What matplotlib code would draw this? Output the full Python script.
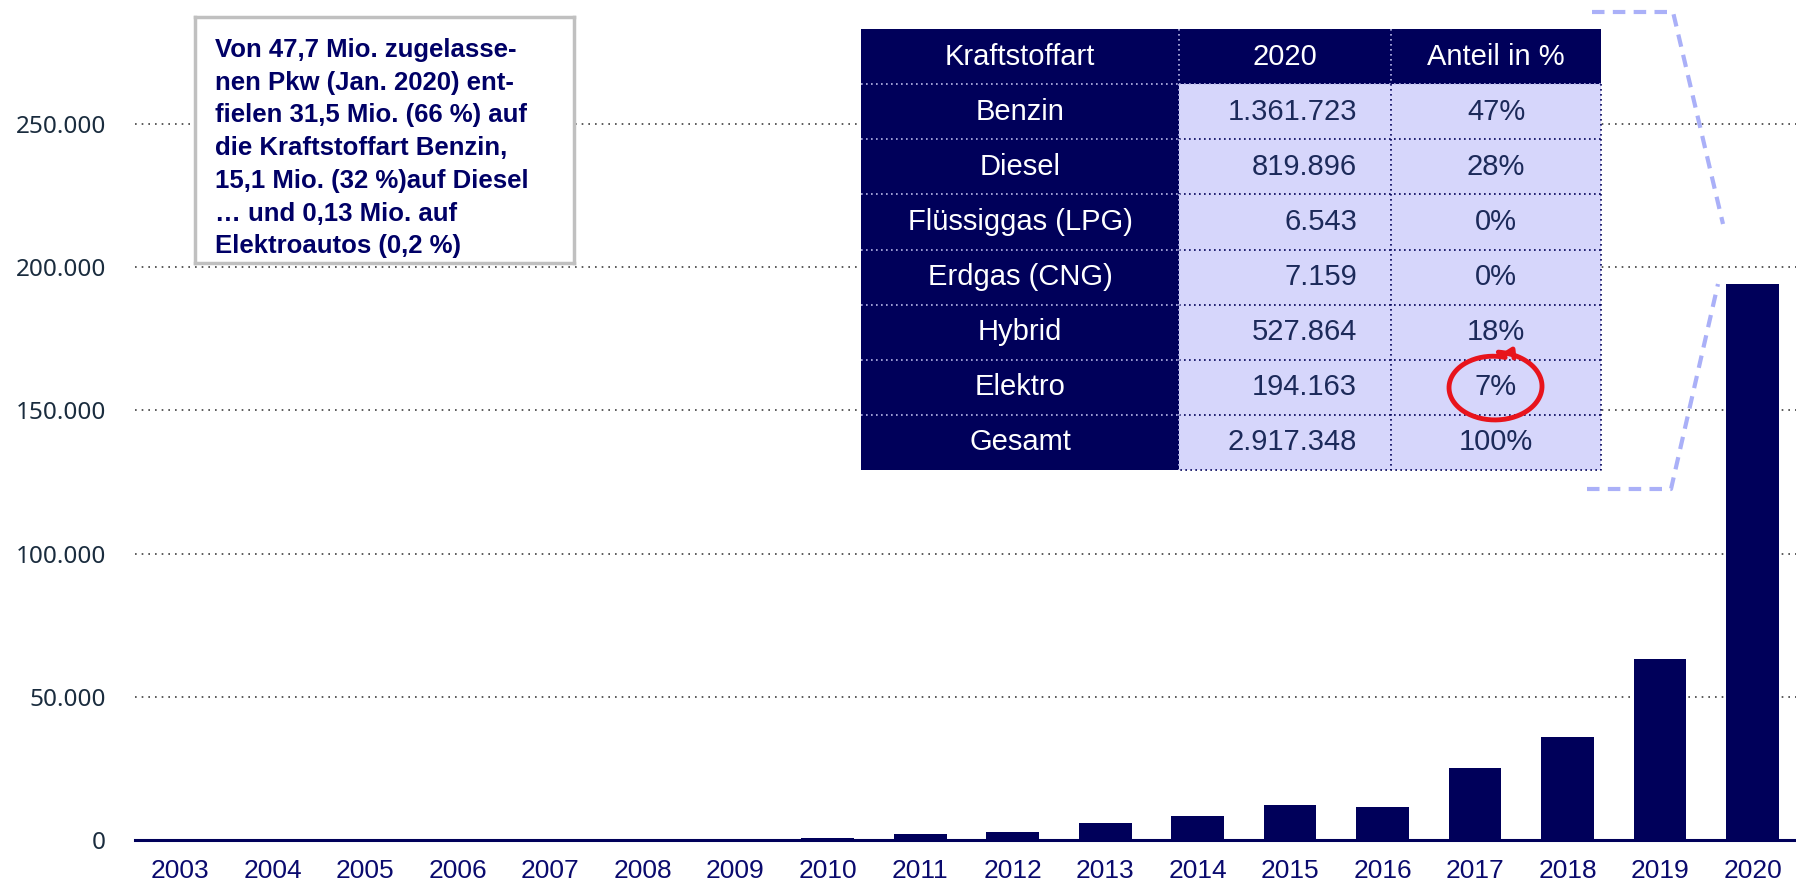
import numpy as np
import matplotlib.pyplot as plt
from matplotlib.patches import Rectangle
from matplotlib.ticker import FuncFormatter

# Neuzulassungen Elektro-Pkw je Jahr
years = [str(y) for y in range(2003, 2021)]
elektro = [19, 12, 22, 19, 8, 36, 162, 541, 2154, 2956, 6051, 8522,
           12363, 11410, 25056, 36062, 63281, 194163]

# Tabelle Kraftstoffarten 2020
table_header = ["Kraftstoffart", "2020", "Anteil in %"]
fuel_types = ["Benzin", "Diesel", "Flüssiggas (LPG)", "Erdgas (CNG)",
              "Hybrid", "Elektro", "Gesamt"]
fuel_counts = [1361723, 819896, 6543, 7159, 527864, 194163, 2917348]
fuel_share = ["47%", "28%", "0%", "0%", "18%", "7%", "100%"]

note = ("Von 47,7 Mio. zugelasse-\n"
        "nen Pkw (Jan. 2020) ent-\n"
        "fielen 31,5 Mio. (66 %) auf\n"
        "die Kraftstoffart Benzin,\n"
        "15,1 Mio. (32 %)auf Diesel\n"
        "… und 0,13 Mio. auf\n"
        "Elektroautos (0,2 %)")

NAVY = "#00005a"
LAVENDER = "#d6d6fb"
W, H = 1796, 883

plt.rcParams['font.family'] = ['Liberation Sans', 'DejaVu Sans']


def de_num(v, pos=None):
    return f"{int(v):,}".replace(",", ".")


fig = plt.figure(figsize=(W / 100, H / 100), dpi=100)

# main bar chart
ax = fig.add_axes([135 / W, (H - 840) / H, (W - 135) / W, 840 / H])
x = np.arange(len(years))
ax.bar(x, elektro, width=0.57, color=NAVY, zorder=2)
ax.axhline(0, color=NAVY, lw=2.2, zorder=3, clip_on=False)
ax.set_xlim(-0.49, 17.47)
ax.set_ylim(0, 293300)
ax.set_yticks(range(0, 250001, 50000))
ax.yaxis.set_major_formatter(FuncFormatter(de_num))
ax.set_xticks(x)
ax.set_xticklabels(years)
ax.yaxis.grid(True, linestyle=(0, (1, 3)), color="#404040", lw=1.2)
ax.set_axisbelow(True)
for s in ax.spines.values():
    s.set_visible(False)
ax.tick_params(axis='x', length=0, pad=13.5, labelsize=19, labelcolor="#0a0a6e")
ax.tick_params(axis='y', length=0, pad=21, labelsize=17.5, labelcolor="#1a2c3e")
for lbl in ax.get_yticklabels():
    lbl.set_family(['Noto Sans', 'DejaVu Sans'])

# note box
axn = fig.add_axes([195 / W, (H - 263) / H, 379 / W, 246 / H])
axn.set_xticks([])
axn.set_yticks([])
axn.set_facecolor("white")
for s in axn.spines.values():
    s.set_color("#c0c0c0")
    s.set_linewidth(2.5)
axn.text(20 / 379, 1 - 21 / 246, note, transform=axn.transAxes, ha='left', va='top',
         fontsize=18.5, fontweight='bold', color="#000066", linespacing=1.46)

# table
axt = fig.add_axes([861 / W, (H - 470) / H, 740 / W, 441 / H])
axt.set_xlim(0, 740)
axt.set_ylim(8, 0)
axt.axis('off')
col_edges = [0, 318, 530, 740]
nrows = len(fuel_types) + 1
for r in range(nrows):
    for c in range(3):
        dark = (r == 0 or c == 0)
        axt.add_patch(Rectangle((col_edges[c], r), col_edges[c + 1] - col_edges[c], 1,
                                facecolor=NAVY if dark else LAVENDER, edgecolor='none'))
dot = (0, (1, 2))
for r in range(1, nrows):
    axt.plot([0, 318], [r, r], color="#b8b8e8", lw=1.2, linestyle=dot)
    axt.plot([318, 740], [r, r], color=NAVY if r > 1 else "#b8b8e8", lw=1.2, linestyle=dot)
for xe in [318, 530]:
    axt.plot([xe, xe], [0, 1], color="#b8b8e8", lw=1.2, linestyle=dot)
    axt.plot([xe, xe], [1, nrows], color=NAVY if xe == 530 else "#b8b8e8", lw=1.2, linestyle=dot)
axt.plot([740, 740, 318], [1, nrows, nrows], color=NAVY, lw=1.2, linestyle=dot, clip_on=False)

centers = [159, 424, 635]
for c, t in enumerate(table_header):
    axt.text(centers[c], 0.5, t, ha='center', va='center', color='white', fontsize=21)
for i, name in enumerate(fuel_types):
    r = i + 1.5
    axt.text(159, r, name, ha='center', va='center', color='white', fontsize=21)
    axt.text(496, r, de_num(fuel_counts[i]), ha='right', va='center', color="#1c2a5a", fontsize=21)
    axt.text(635, r, fuel_share[i], ha='center', va='center', color="#1c2a5a", fontsize=21)

# overlay: callout lines and red circle
axo = fig.add_axes([0, 0, 1, 1])
axo.set_xlim(0, W)
axo.set_ylim(H, 0)
axo.axis('off')
axo.patch.set_alpha(0)
dash_col = "#aab0f8"
axo.plot([1592, 1673, 1723], [12, 12, 224], color=dash_col, lw=3, linestyle=(0, (3, 2)))
axo.plot([1587, 1671, 1718], [489, 489, 284], color=dash_col, lw=3, linestyle=(0, (3, 2)))

t = np.radians(np.linspace(75, 445, 200))
grow = np.linspace(0.9, 1.03, t.size)
cx, cy = 1494, 387
xs = cx + 48 * grow * np.cos(t)
ys = cy - 34 * grow * np.sin(t)
axo.plot(xs, ys, color="#e8141c", lw=3.5, solid_capstyle='round')
axo.plot([1502, 1513, 1514], [356, 349, 358], color="#e8141c", lw=3.5,
         solid_capstyle='round')

fig.savefig("out.png", dpi=100)
